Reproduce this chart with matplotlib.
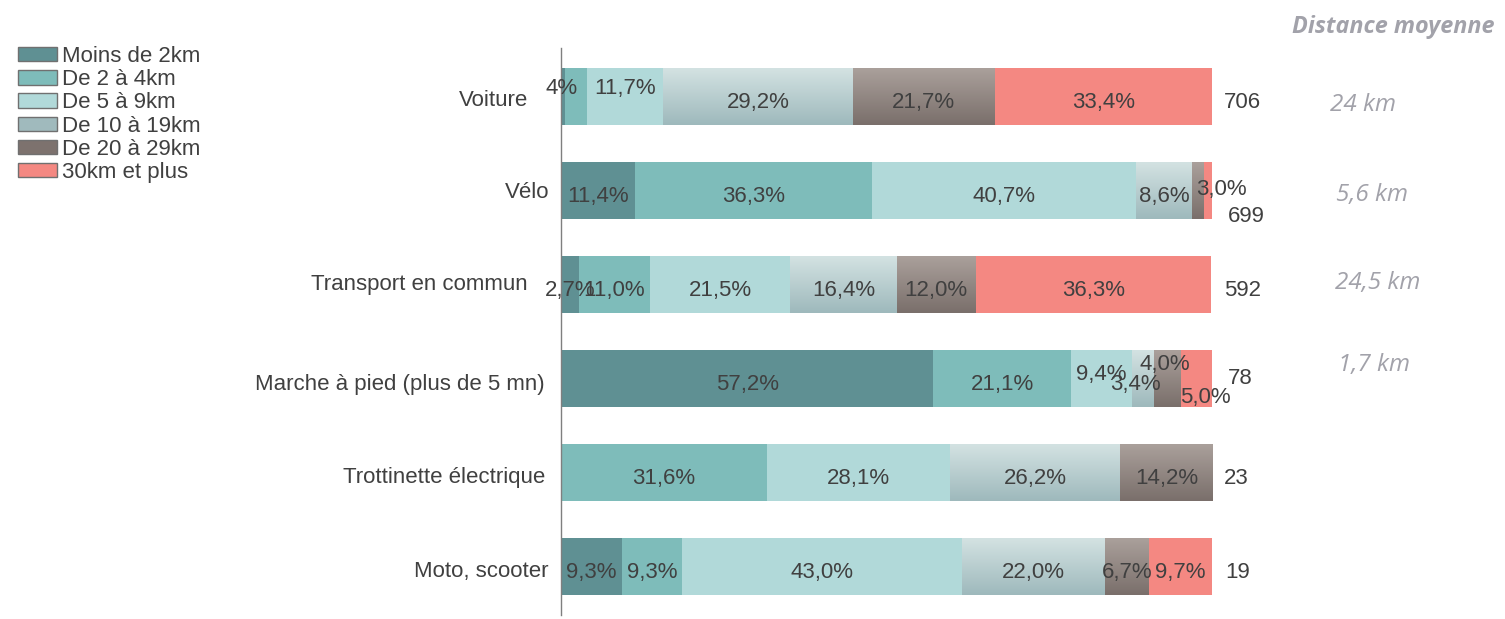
import numpy as np
import matplotlib
matplotlib.use("Agg")
import matplotlib.pyplot as plt
from matplotlib.patches import Patch
from matplotlib.colors import to_rgb

# ---------------- data ----------------
categories = ["Voiture", "Vélo", "Transport en commun",
              "Marche à pied (plus de 5 mn)", "Trottinette électrique", "Moto, scooter"]
series_names = ["Moins de 2km", "De 2 à 4km", "De 5 à 9km",
                "De 10 à 19km", "De 20 à 29km", "30km et plus"]
moins_2 = [0.6, 11.4, 2.7, 57.2, 0.0, 9.3]
de_2_4 = [3.4, 36.3, 11.0, 21.1, 31.6, 9.3]
de_5_9 = [11.7, 40.7, 21.5, 9.4, 28.1, 43.0]
de_10_19 = [29.2, 8.6, 16.4, 3.4, 26.2, 22.0]
de_20_29 = [21.7, 1.8, 12.0, 4.0, 14.2, 6.7]
plus_30 = [33.4, 1.2, 36.3, 5.0, 0.0, 9.7]
series = [moins_2, de_2_4, de_5_9, de_10_19, de_20_29, plus_30]

# visible labels (as printed in the chart)
labels = [
    ["4%", "", "11,7%", "29,2%", "21,7%", "33,4%"],
    ["11,4%", "36,3%", "40,7%", "8,6%", "3,0%", ""],
    ["2,7%", "11,0%", "21,5%", "16,4%", "12,0%", "36,3%"],
    ["57,2%", "21,1%", "9,4%", "3,4%", "4,0%", "5,0%"],
    ["", "31,6%", "28,1%", "26,2%", "14,2%", ""],
    ["9,3%", "9,3%", "43,0%", "22,0%", "6,7%", "9,7%"],
]
counts = ["706", "699", "592", "78", "23", "19"]
distances = ["24 km", "5,6 km", "24,5 km", "1,7 km"]

# ---------------- style ----------------
colors = ["#5f9093", "#7ebcba", "#b1d9d9", "#a0babd", "#7d726e", "#f48882"]
gradients = {3: ("#d3e2e2", "#9eb9bc"), 4: ("#aaa09b", "#7a6f6b")}
txt = "#404040"
grey = "#a2a2aa"
FS = 16

plt.rcParams['font.family'] = ['Liberation Sans', 'DejaVu Sans']

fig = plt.figure(figsize=(15.05, 6.19), dpi=100)
W, H = 1505, 619
ax = fig.add_axes([561 / W, 4 / H, 651 / W, (615 - 48) / H])

y = np.arange(len(categories))
bh = 0.605
left = np.zeros(len(categories))
for k, vals in enumerate(series):
    bc = ax.barh(y, vals, left=left, height=bh, color=colors[k], linewidth=0)
    if k in gradients:
        top, bot = gradients[k]
        t = np.linspace(0, 1, 64)[:, None]
        grad = (1 - t) * np.array(to_rgb(top)) + t * np.array(to_rgb(bot))
        grad = grad[:, None, :]
        for rect in bc.patches:
            if rect.get_width() <= 0:
                continue
            x0, y0 = rect.get_x(), rect.get_y()
            w, h = rect.get_width(), rect.get_height()
            im = ax.imshow(grad, extent=(x0, x0 + w, y0 + h, y0), origin='upper',
                           aspect='auto', interpolation='bilinear', zorder=2)
            im.set_clip_path(rect)
    left = left + np.array(vals)

# label offsets in pixels (dx, dy) for crowded segments
offsets = {
    (0, 0): (-1, 14), (0, 2): (0, 14),
    (1, 4): (23, 7),
    (3, 2): (0, 10), (3, 3): (-8, 0), (3, 4): (-2, 20), (3, 5): (9, -13),
}
BASE_DY = -6
left = np.zeros(len(categories))
for k, vals in enumerate(series):
    for i, v in enumerate(vals):
        lab = labels[i][k]
        if lab:
            dx, dy = offsets.get((i, k), (0, 0))
            ax.annotate(lab, (left[i] + v / 2, y[i]), xytext=(dx, dy + BASE_DY),
                        textcoords='offset pixels', ha='center', va='center',
                        fontsize=FS, color=txt, zorder=5, annotation_clip=False)
    left = left + np.array(vals)

# counts
count_off = [(0, 0), (4, -20), (0, 0), (4, 6), (0, 0), (2, 0)]
for i, c in enumerate(counts):
    dx, dy = count_off[i]
    ax.annotate(c, (101.8, y[i]), xytext=(dx, dy + BASE_DY), textcoords='offset pixels',
                ha='left', va='center', fontsize=FS, color=txt, annotation_clip=False)

# average distances
dist_off = [(-9, -9), (0, -5), (6, 1), (2, 14)]
for i, d in enumerate(distances):
    dx, dy = dist_off[i]
    ax.annotate(d, (124.6, y[i]), xytext=(dx, dy), textcoords='offset pixels',
                ha='center', va='center', fontsize=17.5, color=grey,
                family='Open Sans', style='italic', annotation_clip=False)
fig.text(1494 / W, 1 - 27 / H, "Distance moyenne", ha='right', va='center',
         fontsize=16.8, color=grey, family='Open Sans', style='italic',
         weight='bold')

# category labels
cat_end = [528, 549, 528, 545, 545, 549]
cat_dy = [-4, -2, 0, -6, -5, -5]
for i, c in enumerate(categories):
    ax.annotate(c, (0, y[i]), xytext=(cat_end[i] - 561, cat_dy[i]),
                textcoords='offset pixels', ha='right', va='center',
                fontsize=FS, color=txt, annotation_clip=False)

ax.set_xlim(0, 100)
ax.set_ylim(len(categories) - 0.49, -0.51)
ax.set_xticks([])
ax.set_yticks([])
for s in ["top", "right", "bottom"]:
    ax.spines[s].set_visible(False)
ax.spines["left"].set_color("#7f7f7f")
ax.spines["left"].set_linewidth(1.0)

handles = [Patch(facecolor=colors[k], edgecolor="#707070", linewidth=1.0,
                 label=series_names[k]) for k in range(len(series_names))]
leg = fig.legend(handles=handles, loc='upper left',
                 bbox_to_anchor=(18 / W, 1 - 46 / H), frameon=False,
                 fontsize=FS, handlelength=1.75, handleheight=0.62,
                 handletextpad=0.25, labelspacing=0.1, borderpad=0,
                 borderaxespad=0)
for t in leg.get_texts():
    t.set_color(txt)

fig.savefig("out.png", dpi=100)
